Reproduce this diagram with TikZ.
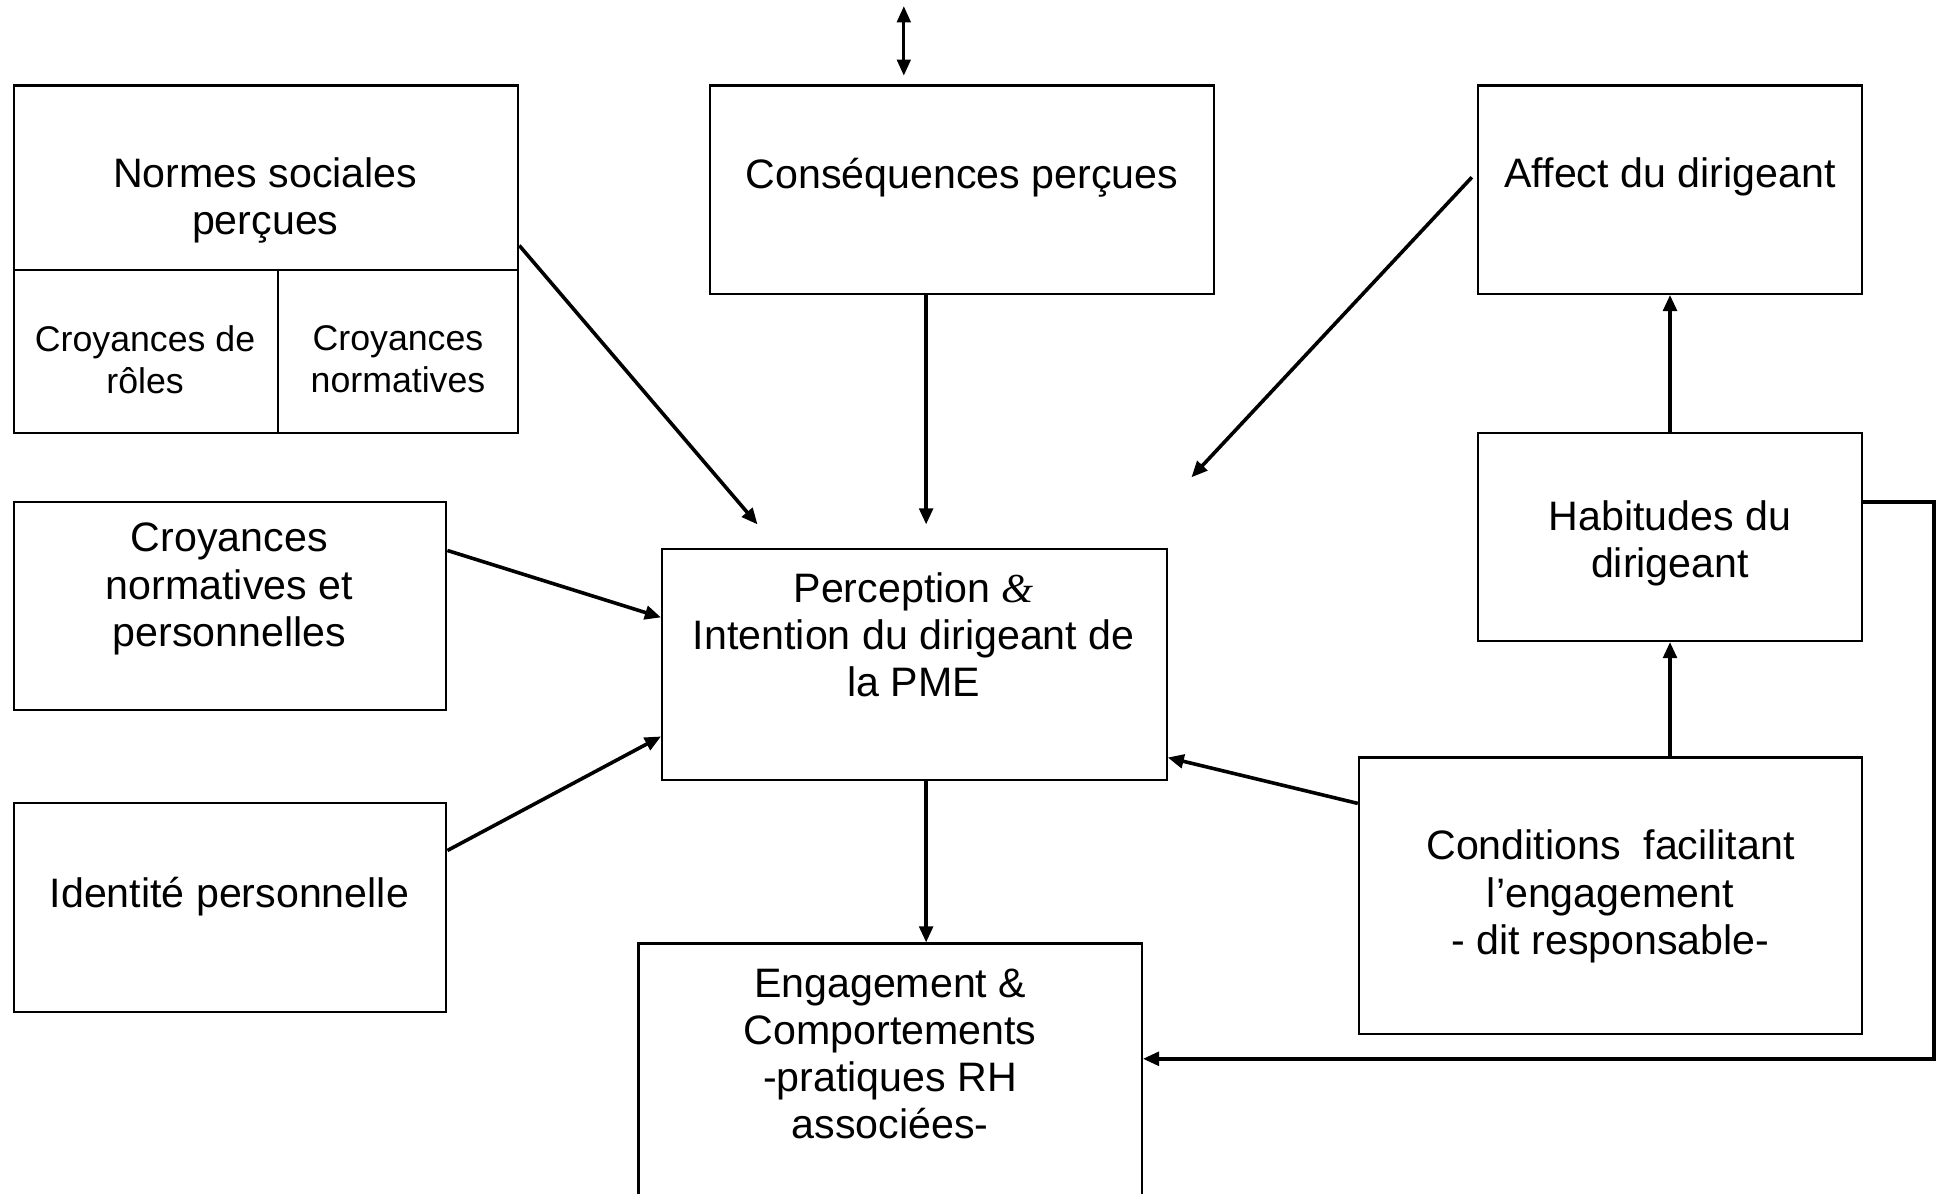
\documentclass[tikz,border=0pt]{standalone}
\usepackage{fontspec}
\setmainfont{Liberation Sans}
\newfontfamily\serifamp{Liberation Serif}
\usetikzlibrary{arrows.meta,fit}
\tikzset{
  box/.style={draw=black, line width=0.85pt, inner sep=0pt, rectangle},
  lbl/.style={align=center, inner sep=0pt, yshift=-1.5pt, font=\fontsize{16.6}{19}\selectfont},
  slbl/.style={align=center, inner sep=0pt, yshift=-0.5pt, font=\fontsize{14.4}{17}\selectfont},
  arr/.style={line width=1.45pt, -{Triangle[length=6.5pt,width=5.5pt]}},
  darr/.style={line width=1.2pt, {Triangle[length=6.5pt,width=5.5pt]}-{Triangle[length=6.5pt,width=5.5pt]}},
}
\begin{document}
\begin{tikzpicture}[x=0.5pt, y=-0.5pt]
\clip (0,0) rectangle (1568,963);
\fill[white] (0,0) rectangle (1568,963);
% boxes
\node[box, fit={(11,69) (418,349)}] (normes) {};
\node[box, fit={(573,69) (979,237)}] (cons) {};
\node[box, fit={(1192,69) (1502,237)}] (affect) {};
\node[box, fit={(11,405) (360,573)}] (croy) {};
\node[box, fit={(534,443) (941,629)}] (perc) {};
\node[box, fit={(11,648) (360,816)}] (ident) {};
\node[box, fit={(515,761) (921,1010)}] (eng) {};
\node[box, fit={(1192,349) (1502,517)}] (hab) {};
\node[box, fit={(1096,611) (1502,834)}] (cond) {};
% dividers in the normes box
\coordinate (divh) at (224,218);
\draw[line width=0.85pt] (normes.west |- divh) -- (normes.east |- divh);
\draw[line width=0.85pt] (divh) -- (divh |- normes.south);
% texts
\node[lbl] (tnormes) at (214,159) {Normes sociales\\perçues};
\node[slbl] (troles) at (117,289) {Croyances de\\rôles};
\node[slbl] (tnormatives) at (321,289) {Croyances\\normatives};
\node[lbl] (tcons) at (776,140) {Conséquences perçues};
\node[lbl] (taffect) at (1347,140) {Affect du dirigeant};
\node[lbl] (tcroy) at (185,472) {Croyances\\normatives et\\personnelles};
\node[lbl] (tperc) at (737,509) {Perception {\serifamp\itshape\&}\\Intention du dirigeant de\\la PME};
\node[lbl] (tident) at (185,720) {Identité personnelle};
\node[lbl] (teng) at (718,847) {Engagement \&\\Comportements\\-pratiques RH\\associées-};
\node[lbl] (thab) at (1347,435) {Habitudes du\\dirigeant};
\node[lbl] (tcond) at (1299,720) {Conditions~ facilitant\\l’engagement\\- dit responsable-};
% free ends
\coordinate (topA) at (729,5);
\coordinate (topB) at (729,61);
\coordinate (n1) at (611,423);
\coordinate (p1) at (747,423);
\coordinate (a1) at (961,385);
\coordinate (vx) at (747,700);
\coordinate (corner) at (1560,854);
% connectors
\draw[darr] (topA) -- (topB);
\draw[arr] ([yshift=5.5pt]normes.east) -- (n1);
\draw[arr] (cons.south -| p1) -- (p1);
\draw[arr] ([shift={(-2pt,5pt)}]affect.west) -- (a1);
\draw[arr] ([yshift=22.5pt]croy.east) -- ([yshift=19pt]perc.west);
\draw[arr] ([yshift=23pt]ident.east) -- ([yshift=-29pt]perc.west);
\draw[arr] (perc.south -| vx) -- (eng.north -| vx);
\draw[arr] ([yshift=37.25pt]cond.west) -- ([yshift=-37.5pt]perc.east);
\draw[arr] (hab.north) -- (affect.south);
\draw[arr] (cond.north -| hab.south) -- (hab.south);
\draw[arr] ([yshift=14pt]hab.east) -| (corner) -- (corner -| eng.east);
\end{tikzpicture}
\end{document}
